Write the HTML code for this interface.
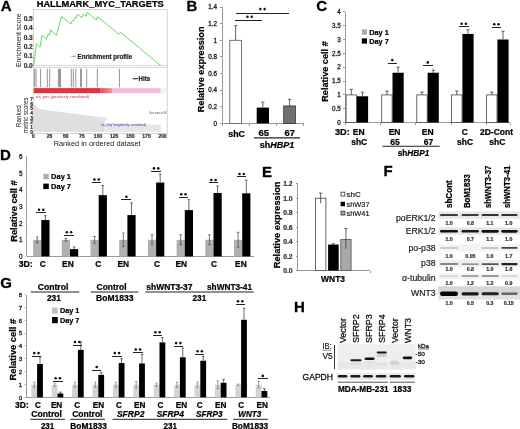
<!DOCTYPE html>
<html><head><meta charset="utf-8"><style>
html,body{margin:0;padding:0;background:#fff;width:520px;height:429px;overflow:hidden}
svg{display:block;will-change:transform}
text{font-family:"Liberation Sans", sans-serif}
</style></head><body>
<svg width="520" height="429" viewBox="0 0 520 429" font-family='"Liberation Sans", sans-serif'>
<rect width="520" height="429" fill="#fff"/>
<text x="0.8" y="11.2" font-size="15" font-weight="bold" stroke="#000" stroke-width="0.3">A</text>
<text x="186.4" y="11.3" font-size="15" font-weight="bold" stroke="#000" stroke-width="0.3">B</text>
<text x="316.3" y="11.4" font-size="15" font-weight="bold" stroke="#000" stroke-width="0.3">C</text>
<text x="-0.1" y="159.6" font-size="15" font-weight="bold" stroke="#000" stroke-width="0.3">D</text>
<text x="261.9" y="176.5" font-size="15" font-weight="bold" stroke="#000" stroke-width="0.3">E</text>
<text x="383.5" y="176.3" font-size="15" font-weight="bold" stroke="#000" stroke-width="0.3">F</text>
<text x="0.2" y="288.2" font-size="15" font-weight="bold" stroke="#000" stroke-width="0.3">G</text>
<text x="293.9" y="311.7" font-size="15" font-weight="bold" stroke="#000" stroke-width="0.3">H</text>
<text x="36.70" y="7.44" font-size="9" font-weight="bold" stroke="#000" stroke-width="0.22" textLength="127.10" lengthAdjust="spacingAndGlyphs">HALLMARK_MYC_TARGETS</text>
<rect x="33.5" y="9.4" width="133.7" height="124" fill="none" stroke="#c8c8c8" stroke-width="0.8"/>
<line x1="33.50" y1="67.40" x2="167.20" y2="67.40" stroke="#c8c8c8" stroke-width="0.8" />
<line x1="33.50" y1="65.40" x2="167.20" y2="65.40" stroke="#aaaaaa" stroke-width="0.7" stroke-dasharray="1.5,1"/>
<text x="32.80" y="67.58" font-size="6.6" font-weight="bold" fill="#333" text-anchor="end" stroke="#333" stroke-width="0.22">0.0</text>
<text x="32.80" y="58.24" font-size="6.6" font-weight="bold" fill="#333" text-anchor="end" stroke="#333" stroke-width="0.22">0.1</text>
<text x="32.80" y="48.90" font-size="6.6" font-weight="bold" fill="#333" text-anchor="end" stroke="#333" stroke-width="0.22">0.2</text>
<text x="32.80" y="39.56" font-size="6.6" font-weight="bold" fill="#333" text-anchor="end" stroke="#333" stroke-width="0.22">0.3</text>
<text x="32.80" y="30.22" font-size="6.6" font-weight="bold" fill="#333" text-anchor="end" stroke="#333" stroke-width="0.22">0.4</text>
<text x="32.80" y="20.88" font-size="6.6" font-weight="bold" fill="#333" text-anchor="end" stroke="#333" stroke-width="0.22">0.5</text>
<text transform="translate(21.40,67.10) rotate(-90)" font-size="7.0" fill="#1a1a1a" textLength="53.80" lengthAdjust="spacingAndGlyphs">Enrichment score</text>
<path d="M33.9,65.2 L36.3,43.7 L40.1,47.2 L41.9,35.3 L46.5,39.5 L47.9,34.3 L49.0,35.6 L50.7,30.1 L56.4,35.4 L61.5,16.7 L70.9,23.9 L72.3,20.5 L73.3,21.0 L75.2,17.4 L76.3,18.1 L77.3,14.3 L81.9,17.6 L83.1,14.3 L86.3,16.2 L87.2,12.3 L96.3,20.0 L97.5,16.7 L118.8,34.0 L120.7,32.5 L160.6,65.4" fill="none" stroke="#66d866" stroke-width="1.0" stroke-linejoin="round"/>
<line x1="71.30" y1="56.30" x2="76.20" y2="56.30" stroke="#5fd35f" stroke-width="1.1" />
<text x="77.60" y="58.85" font-size="6.8" font-weight="bold" fill="#222" stroke="#222" stroke-width="0.22" textLength="54.60" lengthAdjust="spacingAndGlyphs">Enrichment profile</text>
<line x1="34.60" y1="68.80" x2="34.60" y2="87.30" stroke="#7a7a7a" stroke-width="0.8" />
<line x1="36.00" y1="68.80" x2="36.00" y2="87.30" stroke="#7a7a7a" stroke-width="0.8" />
<line x1="40.60" y1="68.80" x2="40.60" y2="87.30" stroke="#7a7a7a" stroke-width="0.8" />
<line x1="47.30" y1="68.80" x2="47.30" y2="87.30" stroke="#7a7a7a" stroke-width="0.8" />
<line x1="49.70" y1="68.80" x2="49.70" y2="87.30" stroke="#7a7a7a" stroke-width="0.8" />
<line x1="58.40" y1="68.80" x2="58.40" y2="87.30" stroke="#7a7a7a" stroke-width="0.8" />
<line x1="59.50" y1="68.80" x2="59.50" y2="87.30" stroke="#7a7a7a" stroke-width="0.8" />
<line x1="60.50" y1="68.80" x2="60.50" y2="87.30" stroke="#7a7a7a" stroke-width="0.8" />
<line x1="71.30" y1="68.80" x2="71.30" y2="87.30" stroke="#7a7a7a" stroke-width="0.8" />
<line x1="73.30" y1="68.80" x2="73.30" y2="87.30" stroke="#7a7a7a" stroke-width="0.8" />
<line x1="75.80" y1="68.80" x2="75.80" y2="87.30" stroke="#7a7a7a" stroke-width="0.8" />
<line x1="80.60" y1="68.80" x2="80.60" y2="87.30" stroke="#7a7a7a" stroke-width="0.8" />
<line x1="81.40" y1="68.80" x2="81.40" y2="87.30" stroke="#7a7a7a" stroke-width="0.8" />
<line x1="86.70" y1="68.80" x2="86.70" y2="87.30" stroke="#7a7a7a" stroke-width="0.8" />
<line x1="97.30" y1="68.80" x2="97.30" y2="87.30" stroke="#7a7a7a" stroke-width="0.8" />
<line x1="119.40" y1="68.80" x2="119.40" y2="87.30" stroke="#7a7a7a" stroke-width="0.8" />
<line x1="132.80" y1="78.70" x2="137.80" y2="78.70" stroke="#222" stroke-width="1.1" />
<text x="138.60" y="81.22" font-size="7.0" font-weight="bold" fill="#222" stroke="#222" stroke-width="0.22" textLength="11.60" lengthAdjust="spacingAndGlyphs">Hits</text>
<rect x="33.80" y="88.10" width="66.40" height="5.10" fill="#e8303c" />
<defs><linearGradient id="rb2" x1="0" x2="1" y1="0" y2="0"><stop offset="0" stop-color="#ea4a55"/><stop offset="1" stop-color="#f39aa0"/></linearGradient></defs>
<rect x="100.20" y="88.10" width="12.50" height="5.10" fill="url(#rb2)" />
<rect x="112.70" y="88.10" width="48.10" height="5.10" fill="#f6bde2" />
<rect x="160.80" y="88.10" width="5.80" height="5.10" fill="#fbf0f7" />
<path d="M33.5,132.0 L33.5,99.8 L34.1,102.4 L34.8,104.2 L35.4,105.5 L36.1,106.5 L36.7,107.2 L37.4,107.8 L38.0,108.2 L38.7,108.5 L39.3,108.8 L40.0,109.0 L40.6,109.1 L41.3,109.3 L41.9,109.4 L42.5,109.5 L43.2,109.6 L43.8,109.7 L44.5,109.8 L45.1,109.9 L45.8,110.0 L46.4,110.1 L47.1,110.2 L47.7,110.3 L48.4,110.4 L49.0,110.4 L49.7,110.5 L50.3,110.6 L51.0,110.7 L51.6,110.8 L52.2,110.9 L52.9,111.0 L53.5,111.0 L54.2,111.1 L54.8,111.2 L55.5,111.3 L56.1,111.4 L56.8,111.5 L57.4,111.5 L58.1,111.6 L58.7,111.7 L59.4,111.8 L60.0,111.9 L60.6,112.0 L61.3,112.0 L61.9,112.1 L62.6,112.2 L63.2,112.3 L63.9,112.4 L64.5,112.5 L65.2,112.6 L65.8,112.6 L66.5,112.7 L67.1,112.8 L67.8,112.9 L68.4,113.0 L69.1,113.1 L69.7,113.1 L70.3,113.2 L71.0,113.3 L71.6,113.4 L72.3,113.5 L72.9,113.6 L73.6,113.6 L74.2,113.7 L74.9,113.8 L75.5,113.9 L76.2,114.0 L76.8,114.1 L77.5,114.2 L78.1,114.2 L78.7,114.3 L79.4,114.4 L80.0,114.5 L80.7,114.6 L81.3,114.7 L82.0,114.7 L82.6,114.8 L83.3,114.9 L83.9,115.0 L84.6,115.1 L85.2,115.2 L85.9,115.3 L86.5,115.3 L87.2,115.4 L87.8,115.5 L88.4,115.6 L89.1,115.7 L89.7,115.8 L90.4,115.8 L91.0,115.9 L91.7,116.0 L92.3,116.1 L93.0,116.2 L93.6,116.3 L94.3,116.3 L94.9,116.4 L95.6,116.5 L96.2,116.6 L96.8,116.7 L97.5,116.8 L98.1,116.9 L98.8,116.9 L99.4,117.0 L100.1,117.1 L100.7,117.2 L101.4,117.3 L102.0,117.4 L102.7,117.4 L103.3,117.5 L104.0,117.6 L104.6,117.7 L104.6,132.0 Z" fill="#dedede" stroke="none"/>
<path d="M105.3,132.0 L105.3,122.9 L105.9,122.9 L106.5,123.0 L107.2,123.0 L107.8,123.0 L108.5,123.0 L109.1,123.0 L109.8,123.1 L110.4,123.1 L111.1,123.1 L111.7,123.1 L112.4,123.1 L113.0,123.2 L113.7,123.2 L114.3,123.2 L114.9,123.2 L115.6,123.2 L116.2,123.3 L116.9,123.3 L117.5,123.3 L118.2,123.3 L118.8,123.4 L119.5,123.4 L120.1,123.4 L120.8,123.4 L121.4,123.4 L122.1,123.5 L122.7,123.5 L123.3,123.5 L124.0,123.5 L124.6,123.5 L125.3,123.6 L125.9,123.6 L126.6,123.6 L127.2,123.6 L127.9,123.6 L128.5,123.7 L129.2,123.7 L129.8,123.7 L130.5,123.7 L131.1,123.8 L131.8,123.8 L132.4,123.8 L133.0,123.8 L133.7,123.8 L134.3,123.9 L135.0,123.9 L135.6,123.9 L136.3,123.9 L136.9,123.9 L137.6,124.0 L138.2,124.0 L138.9,124.0 L139.5,124.0 L140.2,124.0 L140.8,124.1 L141.4,124.1 L142.1,124.1 L142.7,124.1 L143.4,124.2 L144.0,124.2 L144.7,124.2 L145.3,124.2 L146.0,124.2 L146.6,124.3 L147.3,124.3 L147.9,124.3 L148.6,124.3 L149.2,124.3 L149.9,124.4 L150.5,124.4 L151.1,124.4 L151.8,124.4 L152.4,124.4 L153.1,124.5 L153.7,124.5 L154.4,124.5 L155.0,124.5 L155.7,124.5 L156.3,124.6 L157.0,124.6 L157.6,124.6 L158.3,124.6 L158.9,124.7 L159.5,124.7 L160.2,124.7 L160.8,124.7 L160.8,132.0 Z" fill="#e6e6e6" stroke="none"/>
<rect x="96.00" y="117.60" width="11.00" height="3.00" fill="#e4e4f4" />
<line x1="33.50" y1="100.35" x2="33.50" y2="132.00" stroke="#ebebeb" stroke-width="0.3" />
<line x1="35.44" y1="106.02" x2="35.44" y2="132.00" stroke="#ebebeb" stroke-width="0.3" />
<line x1="37.38" y1="108.27" x2="37.38" y2="132.00" stroke="#ebebeb" stroke-width="0.3" />
<line x1="39.32" y1="109.25" x2="39.32" y2="132.00" stroke="#ebebeb" stroke-width="0.3" />
<line x1="41.26" y1="109.78" x2="41.26" y2="132.00" stroke="#ebebeb" stroke-width="0.3" />
<line x1="43.20" y1="110.13" x2="43.20" y2="132.00" stroke="#ebebeb" stroke-width="0.3" />
<line x1="45.14" y1="110.42" x2="45.14" y2="132.00" stroke="#ebebeb" stroke-width="0.3" />
<line x1="47.07" y1="110.68" x2="47.07" y2="132.00" stroke="#ebebeb" stroke-width="0.3" />
<line x1="49.01" y1="110.94" x2="49.01" y2="132.00" stroke="#ebebeb" stroke-width="0.3" />
<line x1="50.95" y1="111.20" x2="50.95" y2="132.00" stroke="#ebebeb" stroke-width="0.3" />
<line x1="52.89" y1="111.45" x2="52.89" y2="132.00" stroke="#ebebeb" stroke-width="0.3" />
<line x1="54.83" y1="111.70" x2="54.83" y2="132.00" stroke="#ebebeb" stroke-width="0.3" />
<line x1="56.77" y1="111.96" x2="56.77" y2="132.00" stroke="#ebebeb" stroke-width="0.3" />
<line x1="58.71" y1="112.21" x2="58.71" y2="132.00" stroke="#ebebeb" stroke-width="0.3" />
<line x1="60.65" y1="112.46" x2="60.65" y2="132.00" stroke="#ebebeb" stroke-width="0.3" />
<line x1="62.59" y1="112.72" x2="62.59" y2="132.00" stroke="#ebebeb" stroke-width="0.3" />
<line x1="64.53" y1="112.97" x2="64.53" y2="132.00" stroke="#ebebeb" stroke-width="0.3" />
<line x1="66.47" y1="113.22" x2="66.47" y2="132.00" stroke="#ebebeb" stroke-width="0.3" />
<line x1="68.41" y1="113.48" x2="68.41" y2="132.00" stroke="#ebebeb" stroke-width="0.3" />
<line x1="70.34" y1="113.73" x2="70.34" y2="132.00" stroke="#ebebeb" stroke-width="0.3" />
<line x1="72.28" y1="113.98" x2="72.28" y2="132.00" stroke="#ebebeb" stroke-width="0.3" />
<line x1="74.22" y1="114.23" x2="74.22" y2="132.00" stroke="#ebebeb" stroke-width="0.3" />
<line x1="76.16" y1="114.49" x2="76.16" y2="132.00" stroke="#ebebeb" stroke-width="0.3" />
<line x1="78.10" y1="114.74" x2="78.10" y2="132.00" stroke="#ebebeb" stroke-width="0.3" />
<line x1="80.04" y1="114.99" x2="80.04" y2="132.00" stroke="#ebebeb" stroke-width="0.3" />
<line x1="81.98" y1="115.25" x2="81.98" y2="132.00" stroke="#ebebeb" stroke-width="0.3" />
<line x1="83.92" y1="115.50" x2="83.92" y2="132.00" stroke="#ebebeb" stroke-width="0.3" />
<line x1="85.86" y1="115.75" x2="85.86" y2="132.00" stroke="#ebebeb" stroke-width="0.3" />
<line x1="87.80" y1="116.01" x2="87.80" y2="132.00" stroke="#ebebeb" stroke-width="0.3" />
<line x1="89.74" y1="116.26" x2="89.74" y2="132.00" stroke="#ebebeb" stroke-width="0.3" />
<line x1="91.68" y1="116.51" x2="91.68" y2="132.00" stroke="#ebebeb" stroke-width="0.3" />
<line x1="93.62" y1="116.76" x2="93.62" y2="132.00" stroke="#ebebeb" stroke-width="0.3" />
<line x1="95.55" y1="117.02" x2="95.55" y2="132.00" stroke="#ebebeb" stroke-width="0.3" />
<line x1="97.49" y1="117.27" x2="97.49" y2="132.00" stroke="#ebebeb" stroke-width="0.3" />
<line x1="99.43" y1="117.52" x2="99.43" y2="132.00" stroke="#ebebeb" stroke-width="0.3" />
<line x1="101.37" y1="117.78" x2="101.37" y2="132.00" stroke="#ebebeb" stroke-width="0.3" />
<line x1="103.31" y1="118.03" x2="103.31" y2="132.00" stroke="#ebebeb" stroke-width="0.3" />
<line x1="105.25" y1="123.41" x2="105.25" y2="132.00" stroke="#ebebeb" stroke-width="0.3" />
<line x1="107.19" y1="123.48" x2="107.19" y2="132.00" stroke="#ebebeb" stroke-width="0.3" />
<line x1="109.13" y1="123.54" x2="109.13" y2="132.00" stroke="#ebebeb" stroke-width="0.3" />
<line x1="111.07" y1="123.60" x2="111.07" y2="132.00" stroke="#ebebeb" stroke-width="0.3" />
<line x1="113.01" y1="123.66" x2="113.01" y2="132.00" stroke="#ebebeb" stroke-width="0.3" />
<line x1="114.95" y1="123.73" x2="114.95" y2="132.00" stroke="#ebebeb" stroke-width="0.3" />
<line x1="116.89" y1="123.79" x2="116.89" y2="132.00" stroke="#ebebeb" stroke-width="0.3" />
<line x1="118.82" y1="123.85" x2="118.82" y2="132.00" stroke="#ebebeb" stroke-width="0.3" />
<line x1="120.76" y1="123.92" x2="120.76" y2="132.00" stroke="#ebebeb" stroke-width="0.3" />
<line x1="122.70" y1="123.98" x2="122.70" y2="132.00" stroke="#ebebeb" stroke-width="0.3" />
<line x1="124.64" y1="124.04" x2="124.64" y2="132.00" stroke="#ebebeb" stroke-width="0.3" />
<line x1="126.58" y1="124.11" x2="126.58" y2="132.00" stroke="#ebebeb" stroke-width="0.3" />
<line x1="128.52" y1="124.17" x2="128.52" y2="132.00" stroke="#ebebeb" stroke-width="0.3" />
<line x1="130.46" y1="124.23" x2="130.46" y2="132.00" stroke="#ebebeb" stroke-width="0.3" />
<line x1="132.40" y1="124.29" x2="132.40" y2="132.00" stroke="#ebebeb" stroke-width="0.3" />
<line x1="134.34" y1="124.36" x2="134.34" y2="132.00" stroke="#ebebeb" stroke-width="0.3" />
<line x1="136.28" y1="124.42" x2="136.28" y2="132.00" stroke="#ebebeb" stroke-width="0.3" />
<line x1="138.22" y1="124.48" x2="138.22" y2="132.00" stroke="#ebebeb" stroke-width="0.3" />
<line x1="140.16" y1="124.55" x2="140.16" y2="132.00" stroke="#ebebeb" stroke-width="0.3" />
<line x1="142.10" y1="124.61" x2="142.10" y2="132.00" stroke="#ebebeb" stroke-width="0.3" />
<line x1="144.03" y1="124.67" x2="144.03" y2="132.00" stroke="#ebebeb" stroke-width="0.3" />
<line x1="145.97" y1="124.73" x2="145.97" y2="132.00" stroke="#ebebeb" stroke-width="0.3" />
<line x1="147.91" y1="124.80" x2="147.91" y2="132.00" stroke="#ebebeb" stroke-width="0.3" />
<line x1="149.85" y1="124.86" x2="149.85" y2="132.00" stroke="#ebebeb" stroke-width="0.3" />
<line x1="151.79" y1="124.92" x2="151.79" y2="132.00" stroke="#ebebeb" stroke-width="0.3" />
<line x1="153.73" y1="124.99" x2="153.73" y2="132.00" stroke="#ebebeb" stroke-width="0.3" />
<line x1="155.67" y1="125.05" x2="155.67" y2="132.00" stroke="#ebebeb" stroke-width="0.3" />
<line x1="157.61" y1="125.11" x2="157.61" y2="132.00" stroke="#ebebeb" stroke-width="0.3" />
<line x1="159.55" y1="125.17" x2="159.55" y2="132.00" stroke="#ebebeb" stroke-width="0.3" />
<text x="36.00" y="97.70" font-size="3.9" fill="#d03030" textLength="53.20" lengthAdjust="spacingAndGlyphs">na_pos (positively correlated)</text>
<text x="149.00" y="114.45" font-size="3.2" fill="#444" textLength="17.50" lengthAdjust="spacingAndGlyphs">Zero cross at 96</text>
<text x="100.80" y="125.74" font-size="4.0" fill="#3535c8" textLength="45.40" lengthAdjust="spacingAndGlyphs">na_neg (negatively correlated)</text>
<text x="32.80" y="133.73" font-size="4.8" font-weight="bold" fill="#333" text-anchor="end" stroke="#333" stroke-width="0.22">0</text>
<text x="32.80" y="129.07" font-size="4.8" font-weight="bold" fill="#333" text-anchor="end" stroke="#333" stroke-width="0.22">1</text>
<text x="32.80" y="124.41" font-size="4.8" font-weight="bold" fill="#333" text-anchor="end" stroke="#333" stroke-width="0.22">2</text>
<text x="32.80" y="119.75" font-size="4.8" font-weight="bold" fill="#333" text-anchor="end" stroke="#333" stroke-width="0.22">3</text>
<text x="32.80" y="115.09" font-size="4.8" font-weight="bold" fill="#333" text-anchor="end" stroke="#333" stroke-width="0.22">4</text>
<text x="32.80" y="110.43" font-size="4.8" font-weight="bold" fill="#333" text-anchor="end" stroke="#333" stroke-width="0.22">5</text>
<text x="32.80" y="105.77" font-size="4.8" font-weight="bold" fill="#333" text-anchor="end" stroke="#333" stroke-width="0.22">6</text>
<text x="32.80" y="101.11" font-size="4.8" font-weight="bold" fill="#333" text-anchor="end" stroke="#333" stroke-width="0.22">7</text>
<text transform="translate(20.60,127.20) rotate(-90)" font-size="7.3" fill="#222" textLength="21.90" lengthAdjust="spacingAndGlyphs">Ranked</text>
<text transform="translate(28.20,133.00) rotate(-90)" font-size="7.3" fill="#222" textLength="35.50" lengthAdjust="spacingAndGlyphs">metric scores</text>
<text x="33.40" y="137.80" font-size="5.0" font-weight="bold" fill="#333" text-anchor="middle" stroke="#333" stroke-width="0.22">0</text>
<text x="49.56" y="137.80" font-size="5.0" font-weight="bold" fill="#333" text-anchor="middle" stroke="#333" stroke-width="0.22">25</text>
<text x="65.72" y="137.80" font-size="5.0" font-weight="bold" fill="#333" text-anchor="middle" stroke="#333" stroke-width="0.22">50</text>
<text x="81.88" y="137.80" font-size="5.0" font-weight="bold" fill="#333" text-anchor="middle" stroke="#333" stroke-width="0.22">75</text>
<text x="98.04" y="137.80" font-size="5.0" font-weight="bold" fill="#333" text-anchor="middle" stroke="#333" stroke-width="0.22">100</text>
<text x="114.20" y="137.80" font-size="5.0" font-weight="bold" fill="#333" text-anchor="middle" stroke="#333" stroke-width="0.22">125</text>
<text x="130.36" y="137.80" font-size="5.0" font-weight="bold" fill="#333" text-anchor="middle" stroke="#333" stroke-width="0.22">150</text>
<text x="146.52" y="137.80" font-size="5.0" font-weight="bold" fill="#333" text-anchor="middle" stroke="#333" stroke-width="0.22">175</text>
<text x="162.68" y="137.80" font-size="5.0" font-weight="bold" fill="#333" text-anchor="middle" stroke="#333" stroke-width="0.22">200</text>
<text x="53.70" y="145.50" font-size="7.5" fill="#222" textLength="86.90" lengthAdjust="spacingAndGlyphs">Ranked in ordered dataset</text>
<line x1="222.10" y1="7.00" x2="222.10" y2="123.40" stroke="#9a9a9a" stroke-width="1" shape-rendering="crispEdges"/>
<line x1="222.10" y1="123.40" x2="303.50" y2="123.40" stroke="#9a9a9a" stroke-width="1" shape-rendering="crispEdges"/>
<line x1="220.00" y1="123.40" x2="222.10" y2="123.40" stroke="#9a9a9a" stroke-width="1" shape-rendering="crispEdges"/>
<text x="217.00" y="125.67" font-size="6.3" fill="#222" text-anchor="end" stroke="#222" stroke-width="0.3">0</text>
<line x1="220.00" y1="106.78" x2="222.10" y2="106.78" stroke="#9a9a9a" stroke-width="1" shape-rendering="crispEdges"/>
<text x="217.00" y="109.05" font-size="6.3" fill="#222" text-anchor="end" stroke="#222" stroke-width="0.3">0.2</text>
<line x1="220.00" y1="90.16" x2="222.10" y2="90.16" stroke="#9a9a9a" stroke-width="1" shape-rendering="crispEdges"/>
<text x="217.00" y="92.43" font-size="6.3" fill="#222" text-anchor="end" stroke="#222" stroke-width="0.3">0.4</text>
<line x1="220.00" y1="73.54" x2="222.10" y2="73.54" stroke="#9a9a9a" stroke-width="1" shape-rendering="crispEdges"/>
<text x="217.00" y="75.81" font-size="6.3" fill="#222" text-anchor="end" stroke="#222" stroke-width="0.3">0.6</text>
<line x1="220.00" y1="56.92" x2="222.10" y2="56.92" stroke="#9a9a9a" stroke-width="1" shape-rendering="crispEdges"/>
<text x="217.00" y="59.19" font-size="6.3" fill="#222" text-anchor="end" stroke="#222" stroke-width="0.3">0.8</text>
<line x1="220.00" y1="40.30" x2="222.10" y2="40.30" stroke="#9a9a9a" stroke-width="1" shape-rendering="crispEdges"/>
<text x="217.00" y="42.57" font-size="6.3" fill="#222" text-anchor="end" stroke="#222" stroke-width="0.3">1</text>
<line x1="220.00" y1="23.68" x2="222.10" y2="23.68" stroke="#9a9a9a" stroke-width="1" shape-rendering="crispEdges"/>
<text x="217.00" y="25.95" font-size="6.3" fill="#222" text-anchor="end" stroke="#222" stroke-width="0.3">1.2</text>
<line x1="220.00" y1="7.06" x2="222.10" y2="7.06" stroke="#9a9a9a" stroke-width="1" shape-rendering="crispEdges"/>
<text x="217.00" y="9.33" font-size="6.3" fill="#222" text-anchor="end" stroke="#222" stroke-width="0.3">1.4</text>
<line x1="222.10" y1="123.40" x2="222.10" y2="125.60" stroke="#9a9a9a" stroke-width="1" shape-rendering="crispEdges"/>
<line x1="249.00" y1="123.40" x2="249.00" y2="125.60" stroke="#9a9a9a" stroke-width="1" shape-rendering="crispEdges"/>
<line x1="276.30" y1="123.40" x2="276.30" y2="125.60" stroke="#9a9a9a" stroke-width="1" shape-rendering="crispEdges"/>
<line x1="303.50" y1="123.40" x2="303.50" y2="125.60" stroke="#9a9a9a" stroke-width="1" shape-rendering="crispEdges"/>
<rect x="229.80" y="40.30" width="11.70" height="83.10" fill="#fff" stroke="#555" stroke-width="0.8" />
<line x1="235.65" y1="25.76" x2="235.65" y2="40.30" stroke="#383838" stroke-width="0.8" />
<line x1="234.15" y1="25.76" x2="237.15" y2="25.76" stroke="#383838" stroke-width="0.8" />
<rect x="256.70" y="107.61" width="12.30" height="15.79" fill="#000" />
<line x1="262.85" y1="102.21" x2="262.85" y2="107.61" stroke="#383838" stroke-width="0.8" />
<line x1="261.25" y1="102.21" x2="264.45" y2="102.21" stroke="#383838" stroke-width="0.8" />
<rect x="283.70" y="105.95" width="11.70" height="17.45" fill="#707070" stroke="#333" stroke-width="0.8" />
<line x1="289.55" y1="99.30" x2="289.55" y2="105.95" stroke="#383838" stroke-width="0.8" />
<line x1="287.95" y1="99.30" x2="291.15" y2="99.30" stroke="#383838" stroke-width="0.8" />
<line x1="235.80" y1="13.00" x2="288.50" y2="13.00" stroke="#222" stroke-width="1" shape-rendering="crispEdges"/>
<circle cx="260.35" cy="9.10" r="1.3" fill="#111"/>
<circle cx="264.65" cy="9.10" r="1.3" fill="#111"/>
<line x1="235.00" y1="20.40" x2="261.60" y2="20.40" stroke="#222" stroke-width="1" shape-rendering="crispEdges"/>
<circle cx="247.45" cy="16.80" r="1.3" fill="#111"/>
<circle cx="251.75" cy="16.80" r="1.3" fill="#111"/>
<text transform="translate(203.50,112.20) rotate(-90)" font-size="9.1" font-weight="bold" stroke="#000" stroke-width="0.22" textLength="85.70" lengthAdjust="spacingAndGlyphs">Relative expression</text>
<text x="228.30" y="136.70" font-size="8.6" font-weight="bold" stroke="#000" stroke-width="0.22" textLength="16.70" lengthAdjust="spacingAndGlyphs">shC</text>
<text x="258.40" y="136.10" font-size="8.6" font-weight="bold" stroke="#000" stroke-width="0.22" textLength="10.60" lengthAdjust="spacingAndGlyphs">65</text>
<text x="284.50" y="136.10" font-size="8.6" font-weight="bold" stroke="#000" stroke-width="0.22" textLength="10.50" lengthAdjust="spacingAndGlyphs">67</text>
<line x1="254.00" y1="137.90" x2="300.00" y2="137.90" stroke="#222" stroke-width="1.1" />
<text x="259.80" y="147.60" font-size="8.6" font-weight="bold" stroke="#000" stroke-width="0.22" textLength="34.60" lengthAdjust="spacingAndGlyphs">sh<tspan font-style="italic">HBP1</tspan></text>
<line x1="345.20" y1="11.70" x2="345.20" y2="122.60" stroke="#9a9a9a" stroke-width="1" shape-rendering="crispEdges"/>
<line x1="345.20" y1="122.60" x2="510.00" y2="122.60" stroke="#9a9a9a" stroke-width="1" shape-rendering="crispEdges"/>
<line x1="343.20" y1="122.60" x2="345.20" y2="122.60" stroke="#9a9a9a" stroke-width="1" shape-rendering="crispEdges"/>
<text x="340.80" y="124.87" font-size="6.3" fill="#222" text-anchor="end" stroke="#222" stroke-width="0.3">0</text>
<line x1="343.20" y1="108.75" x2="345.20" y2="108.75" stroke="#9a9a9a" stroke-width="1" shape-rendering="crispEdges"/>
<text x="340.80" y="111.02" font-size="6.3" fill="#222" text-anchor="end" stroke="#222" stroke-width="0.3">0.5</text>
<line x1="343.20" y1="94.90" x2="345.20" y2="94.90" stroke="#9a9a9a" stroke-width="1" shape-rendering="crispEdges"/>
<text x="340.80" y="97.17" font-size="6.3" fill="#222" text-anchor="end" stroke="#222" stroke-width="0.3">1</text>
<line x1="343.20" y1="81.05" x2="345.20" y2="81.05" stroke="#9a9a9a" stroke-width="1" shape-rendering="crispEdges"/>
<text x="340.80" y="83.32" font-size="6.3" fill="#222" text-anchor="end" stroke="#222" stroke-width="0.3">1.5</text>
<line x1="343.20" y1="67.20" x2="345.20" y2="67.20" stroke="#9a9a9a" stroke-width="1" shape-rendering="crispEdges"/>
<text x="340.80" y="69.47" font-size="6.3" fill="#222" text-anchor="end" stroke="#222" stroke-width="0.3">2</text>
<line x1="343.20" y1="53.35" x2="345.20" y2="53.35" stroke="#9a9a9a" stroke-width="1" shape-rendering="crispEdges"/>
<text x="340.80" y="55.62" font-size="6.3" fill="#222" text-anchor="end" stroke="#222" stroke-width="0.3">2.5</text>
<line x1="343.20" y1="39.50" x2="345.20" y2="39.50" stroke="#9a9a9a" stroke-width="1" shape-rendering="crispEdges"/>
<text x="340.80" y="41.77" font-size="6.3" fill="#222" text-anchor="end" stroke="#222" stroke-width="0.3">3</text>
<line x1="343.20" y1="25.65" x2="345.20" y2="25.65" stroke="#9a9a9a" stroke-width="1" shape-rendering="crispEdges"/>
<text x="340.80" y="27.92" font-size="6.3" fill="#222" text-anchor="end" stroke="#222" stroke-width="0.3">3.5</text>
<line x1="343.20" y1="11.80" x2="345.20" y2="11.80" stroke="#9a9a9a" stroke-width="1" shape-rendering="crispEdges"/>
<text x="340.80" y="14.07" font-size="6.3" fill="#222" text-anchor="end" stroke="#222" stroke-width="0.3">4</text>
<rect x="346.10" y="94.90" width="10.40" height="27.70" fill="#fff" stroke="#444" stroke-width="0.8" />
<line x1="351.30" y1="89.36" x2="351.30" y2="94.90" stroke="#383838" stroke-width="0.8" />
<line x1="349.70" y1="89.36" x2="352.90" y2="89.36" stroke="#383838" stroke-width="0.8" />
<rect x="356.90" y="96.28" width="11.20" height="26.31" fill="#000" />
<line x1="362.50" y1="92.13" x2="362.50" y2="96.28" stroke="#383838" stroke-width="0.8" />
<line x1="360.90" y1="92.13" x2="364.10" y2="92.13" stroke="#383838" stroke-width="0.8" />
<rect x="381.70" y="94.90" width="10.40" height="27.70" fill="#fff" stroke="#444" stroke-width="0.8" />
<line x1="386.90" y1="91.02" x2="386.90" y2="94.90" stroke="#383838" stroke-width="0.8" />
<line x1="385.30" y1="91.02" x2="388.50" y2="91.02" stroke="#383838" stroke-width="0.8" />
<rect x="392.50" y="72.74" width="11.20" height="49.86" fill="#000" />
<line x1="398.10" y1="67.20" x2="398.10" y2="72.74" stroke="#383838" stroke-width="0.8" />
<line x1="396.50" y1="67.20" x2="399.70" y2="67.20" stroke="#383838" stroke-width="0.8" />
<rect x="416.80" y="94.90" width="10.40" height="27.70" fill="#fff" stroke="#444" stroke-width="0.8" />
<line x1="422.00" y1="92.13" x2="422.00" y2="94.90" stroke="#383838" stroke-width="0.8" />
<line x1="420.40" y1="92.13" x2="423.60" y2="92.13" stroke="#383838" stroke-width="0.8" />
<rect x="427.60" y="72.74" width="11.20" height="49.86" fill="#000" />
<line x1="433.20" y1="69.97" x2="433.20" y2="72.74" stroke="#383838" stroke-width="0.8" />
<line x1="431.60" y1="69.97" x2="434.80" y2="69.97" stroke="#383838" stroke-width="0.8" />
<rect x="451.60" y="94.90" width="10.40" height="27.70" fill="#fff" stroke="#444" stroke-width="0.8" />
<line x1="456.80" y1="91.02" x2="456.80" y2="94.90" stroke="#383838" stroke-width="0.8" />
<line x1="455.20" y1="91.02" x2="458.40" y2="91.02" stroke="#383838" stroke-width="0.8" />
<rect x="462.40" y="33.96" width="11.20" height="88.64" fill="#000" />
<line x1="468.00" y1="29.80" x2="468.00" y2="33.96" stroke="#383838" stroke-width="0.8" />
<line x1="466.40" y1="29.80" x2="469.60" y2="29.80" stroke="#383838" stroke-width="0.8" />
<rect x="486.60" y="94.90" width="10.40" height="27.70" fill="#fff" stroke="#444" stroke-width="0.8" />
<line x1="491.80" y1="92.13" x2="491.80" y2="94.90" stroke="#383838" stroke-width="0.8" />
<line x1="490.20" y1="92.13" x2="493.40" y2="92.13" stroke="#383838" stroke-width="0.8" />
<rect x="497.40" y="39.50" width="11.20" height="83.10" fill="#000" />
<line x1="503.00" y1="31.19" x2="503.00" y2="39.50" stroke="#383838" stroke-width="0.8" />
<line x1="501.40" y1="31.19" x2="504.60" y2="31.19" stroke="#383838" stroke-width="0.8" />
<line x1="345.20" y1="122.60" x2="345.20" y2="124.80" stroke="#9a9a9a" stroke-width="1" shape-rendering="crispEdges"/>
<line x1="380.60" y1="122.60" x2="380.60" y2="124.80" stroke="#9a9a9a" stroke-width="1" shape-rendering="crispEdges"/>
<line x1="415.90" y1="122.60" x2="415.90" y2="124.80" stroke="#9a9a9a" stroke-width="1" shape-rendering="crispEdges"/>
<line x1="451.10" y1="122.60" x2="451.10" y2="124.80" stroke="#9a9a9a" stroke-width="1" shape-rendering="crispEdges"/>
<line x1="486.30" y1="122.60" x2="486.30" y2="124.80" stroke="#9a9a9a" stroke-width="1" shape-rendering="crispEdges"/>
<line x1="510.00" y1="122.60" x2="510.00" y2="124.80" stroke="#9a9a9a" stroke-width="1" shape-rendering="crispEdges"/>
<line x1="387.50" y1="63.30" x2="397.10" y2="63.30" stroke="#222" stroke-width="1" shape-rendering="crispEdges"/>
<circle cx="392.30" cy="60.10" r="1.3" fill="#111"/>
<line x1="423.00" y1="65.40" x2="432.50" y2="65.40" stroke="#222" stroke-width="1" shape-rendering="crispEdges"/>
<circle cx="427.75" cy="62.40" r="1.3" fill="#111"/>
<line x1="458.90" y1="26.60" x2="468.70" y2="26.60" stroke="#222" stroke-width="1" shape-rendering="crispEdges"/>
<circle cx="461.65" cy="23.80" r="1.3" fill="#111"/>
<circle cx="465.95" cy="23.80" r="1.3" fill="#111"/>
<line x1="491.50" y1="27.10" x2="501.30" y2="27.10" stroke="#222" stroke-width="1" shape-rendering="crispEdges"/>
<circle cx="494.25" cy="24.30" r="1.3" fill="#111"/>
<circle cx="498.55" cy="24.30" r="1.3" fill="#111"/>
<rect x="361.80" y="29.40" width="5.20" height="5.20" fill="#a8a8a8" />
<rect x="361.80" y="38.40" width="5.20" height="5.20" fill="#000" />
<text x="369.20" y="34.50" font-size="7.5" font-weight="bold" stroke="#000" stroke-width="0.22" textLength="19.60" lengthAdjust="spacingAndGlyphs">Day 1</text>
<text x="369.20" y="43.60" font-size="7.5" font-weight="bold" stroke="#000" stroke-width="0.22" textLength="19.60" lengthAdjust="spacingAndGlyphs">Day 7</text>
<text transform="translate(327.80,101.80) rotate(-90)" font-size="9.3" font-weight="bold" stroke="#000" stroke-width="0.22" textLength="60.60" lengthAdjust="spacingAndGlyphs">Relative cell #</text>
<text x="334.90" y="134.86" font-size="8.5" font-weight="bold" stroke="#000" stroke-width="0.22" textLength="14.80" lengthAdjust="spacingAndGlyphs">3D:</text>
<text x="358.70" y="134.96" font-size="8.5" font-weight="bold" text-anchor="middle" stroke="#000" stroke-width="0.22">EN</text>
<text x="394.60" y="134.96" font-size="8.5" font-weight="bold" text-anchor="middle" stroke="#000" stroke-width="0.22">EN</text>
<text x="427.70" y="134.96" font-size="8.5" font-weight="bold" text-anchor="middle" stroke="#000" stroke-width="0.22">EN</text>
<text x="464.90" y="134.96" font-size="8.5" font-weight="bold" text-anchor="middle" stroke="#000" stroke-width="0.22">C</text>
<text x="496.50" y="134.96" font-size="8.5" font-weight="bold" text-anchor="middle" stroke="#000" stroke-width="0.22">2D-Cont</text>
<text x="359.20" y="145.16" font-size="8.5" font-weight="bold" text-anchor="middle" stroke="#000" stroke-width="0.22">shC</text>
<text x="395.00" y="145.16" font-size="8.5" font-weight="bold" text-anchor="middle" stroke="#000" stroke-width="0.22">65</text>
<text x="428.60" y="145.16" font-size="8.5" font-weight="bold" text-anchor="middle" stroke="#000" stroke-width="0.22">67</text>
<text x="465.00" y="145.16" font-size="8.5" font-weight="bold" text-anchor="middle" stroke="#000" stroke-width="0.22">shC</text>
<text x="497.30" y="145.16" font-size="8.5" font-weight="bold" text-anchor="middle" stroke="#000" stroke-width="0.22">shC</text>
<line x1="382.50" y1="146.20" x2="439.70" y2="146.20" stroke="#222" stroke-width="1.1" />
<text x="397.70" y="155.90" font-size="8.6" font-weight="bold" stroke="#000" stroke-width="0.22" textLength="31.70" lengthAdjust="spacingAndGlyphs">sh<tspan font-style="italic">HBP1</tspan></text>
<line x1="26.90" y1="156.70" x2="26.90" y2="256.40" stroke="#9a9a9a" stroke-width="1" shape-rendering="crispEdges"/>
<line x1="26.90" y1="256.40" x2="253.80" y2="256.40" stroke="#9a9a9a" stroke-width="1" shape-rendering="crispEdges"/>
<line x1="24.90" y1="256.40" x2="26.90" y2="256.40" stroke="#d0d0d0" stroke-width="1" shape-rendering="crispEdges"/>
<text x="22.60" y="258.70" font-size="6.4" fill="#222" text-anchor="end" stroke="#222" stroke-width="0.3">0</text>
<line x1="24.90" y1="239.80" x2="26.90" y2="239.80" stroke="#d0d0d0" stroke-width="1" shape-rendering="crispEdges"/>
<text x="22.60" y="242.10" font-size="6.4" fill="#222" text-anchor="end" stroke="#222" stroke-width="0.3">1</text>
<line x1="24.90" y1="223.20" x2="26.90" y2="223.20" stroke="#d0d0d0" stroke-width="1" shape-rendering="crispEdges"/>
<text x="22.60" y="225.50" font-size="6.4" fill="#222" text-anchor="end" stroke="#222" stroke-width="0.3">2</text>
<line x1="24.90" y1="206.60" x2="26.90" y2="206.60" stroke="#d0d0d0" stroke-width="1" shape-rendering="crispEdges"/>
<text x="22.60" y="208.90" font-size="6.4" fill="#222" text-anchor="end" stroke="#222" stroke-width="0.3">3</text>
<line x1="24.90" y1="190.00" x2="26.90" y2="190.00" stroke="#d0d0d0" stroke-width="1" shape-rendering="crispEdges"/>
<text x="22.60" y="192.30" font-size="6.4" fill="#222" text-anchor="end" stroke="#222" stroke-width="0.3">4</text>
<line x1="24.90" y1="173.40" x2="26.90" y2="173.40" stroke="#d0d0d0" stroke-width="1" shape-rendering="crispEdges"/>
<text x="22.60" y="175.70" font-size="6.4" fill="#222" text-anchor="end" stroke="#222" stroke-width="0.3">5</text>
<line x1="24.90" y1="156.80" x2="26.90" y2="156.80" stroke="#d0d0d0" stroke-width="1" shape-rendering="crispEdges"/>
<text x="22.60" y="159.10" font-size="6.4" fill="#222" text-anchor="end" stroke="#222" stroke-width="0.3">6</text>
<rect x="33.10" y="239.80" width="8.20" height="16.60" fill="#b0b0b0" />
<line x1="37.20" y1="236.98" x2="37.20" y2="242.62" stroke="#555" stroke-width="0.8" />
<line x1="35.90" y1="236.98" x2="38.50" y2="236.98" stroke="#555" stroke-width="0.8" />
<line x1="35.90" y1="242.62" x2="38.50" y2="242.62" stroke="#555" stroke-width="0.8" />
<rect x="41.30" y="220.05" width="8.20" height="36.35" fill="#000" />
<line x1="45.40" y1="215.73" x2="45.40" y2="220.05" stroke="#444" stroke-width="0.8" />
<line x1="44.10" y1="215.73" x2="46.70" y2="215.73" stroke="#444" stroke-width="0.8" />
<rect x="61.80" y="239.80" width="8.20" height="16.60" fill="#b0b0b0" />
<line x1="65.90" y1="238.47" x2="65.90" y2="241.13" stroke="#555" stroke-width="0.8" />
<line x1="64.60" y1="238.47" x2="67.20" y2="238.47" stroke="#555" stroke-width="0.8" />
<line x1="64.60" y1="241.13" x2="67.20" y2="241.13" stroke="#555" stroke-width="0.8" />
<rect x="70.00" y="249.10" width="8.20" height="7.30" fill="#000" />
<line x1="74.10" y1="246.94" x2="74.10" y2="249.10" stroke="#444" stroke-width="0.8" />
<line x1="72.80" y1="246.94" x2="75.40" y2="246.94" stroke="#444" stroke-width="0.8" />
<rect x="90.50" y="239.80" width="8.20" height="16.60" fill="#b0b0b0" />
<line x1="94.60" y1="236.48" x2="94.60" y2="243.12" stroke="#555" stroke-width="0.8" />
<line x1="93.30" y1="236.48" x2="95.90" y2="236.48" stroke="#555" stroke-width="0.8" />
<line x1="93.30" y1="243.12" x2="95.90" y2="243.12" stroke="#555" stroke-width="0.8" />
<rect x="98.70" y="195.15" width="8.20" height="61.25" fill="#000" />
<line x1="102.80" y1="185.52" x2="102.80" y2="195.15" stroke="#444" stroke-width="0.8" />
<line x1="101.50" y1="185.52" x2="104.10" y2="185.52" stroke="#444" stroke-width="0.8" />
<rect x="119.20" y="239.80" width="8.20" height="16.60" fill="#b0b0b0" />
<line x1="123.30" y1="233.16" x2="123.30" y2="246.44" stroke="#555" stroke-width="0.8" />
<line x1="122.00" y1="233.16" x2="124.60" y2="233.16" stroke="#555" stroke-width="0.8" />
<line x1="122.00" y1="246.44" x2="124.60" y2="246.44" stroke="#555" stroke-width="0.8" />
<rect x="127.40" y="215.07" width="8.20" height="41.33" fill="#000" />
<line x1="131.50" y1="202.95" x2="131.50" y2="215.07" stroke="#444" stroke-width="0.8" />
<line x1="130.20" y1="202.95" x2="132.80" y2="202.95" stroke="#444" stroke-width="0.8" />
<rect x="147.90" y="239.80" width="8.20" height="16.60" fill="#b0b0b0" />
<line x1="152.00" y1="234.82" x2="152.00" y2="244.78" stroke="#555" stroke-width="0.8" />
<line x1="150.70" y1="234.82" x2="153.30" y2="234.82" stroke="#555" stroke-width="0.8" />
<line x1="150.70" y1="244.78" x2="153.30" y2="244.78" stroke="#555" stroke-width="0.8" />
<rect x="156.10" y="182.53" width="8.20" height="73.87" fill="#000" />
<line x1="160.20" y1="174.06" x2="160.20" y2="182.53" stroke="#444" stroke-width="0.8" />
<line x1="158.90" y1="174.06" x2="161.50" y2="174.06" stroke="#444" stroke-width="0.8" />
<rect x="176.60" y="239.80" width="8.20" height="16.60" fill="#b0b0b0" />
<line x1="180.70" y1="234.82" x2="180.70" y2="244.78" stroke="#555" stroke-width="0.8" />
<line x1="179.40" y1="234.82" x2="182.00" y2="234.82" stroke="#555" stroke-width="0.8" />
<line x1="179.40" y1="244.78" x2="182.00" y2="244.78" stroke="#555" stroke-width="0.8" />
<rect x="184.80" y="210.09" width="8.20" height="46.31" fill="#000" />
<line x1="188.90" y1="199.63" x2="188.90" y2="210.09" stroke="#444" stroke-width="0.8" />
<line x1="187.60" y1="199.63" x2="190.20" y2="199.63" stroke="#444" stroke-width="0.8" />
<rect x="205.30" y="239.80" width="8.20" height="16.60" fill="#b0b0b0" />
<line x1="209.40" y1="234.82" x2="209.40" y2="244.78" stroke="#555" stroke-width="0.8" />
<line x1="208.10" y1="234.82" x2="210.70" y2="234.82" stroke="#555" stroke-width="0.8" />
<line x1="208.10" y1="244.78" x2="210.70" y2="244.78" stroke="#555" stroke-width="0.8" />
<rect x="213.50" y="192.99" width="8.20" height="63.41" fill="#000" />
<line x1="217.60" y1="186.02" x2="217.60" y2="192.99" stroke="#444" stroke-width="0.8" />
<line x1="216.30" y1="186.02" x2="218.90" y2="186.02" stroke="#444" stroke-width="0.8" />
<rect x="234.00" y="239.80" width="8.20" height="16.60" fill="#b0b0b0" />
<line x1="238.10" y1="232.33" x2="238.10" y2="247.27" stroke="#555" stroke-width="0.8" />
<line x1="236.80" y1="232.33" x2="239.40" y2="232.33" stroke="#555" stroke-width="0.8" />
<line x1="236.80" y1="247.27" x2="239.40" y2="247.27" stroke="#555" stroke-width="0.8" />
<rect x="242.20" y="193.32" width="8.20" height="63.08" fill="#000" />
<line x1="246.30" y1="180.04" x2="246.30" y2="193.32" stroke="#444" stroke-width="0.8" />
<line x1="245.00" y1="180.04" x2="247.60" y2="180.04" stroke="#444" stroke-width="0.8" />
<line x1="36.40" y1="212.60" x2="45.90" y2="212.60" stroke="#222" stroke-width="1" shape-rendering="crispEdges"/>
<circle cx="39.00" cy="209.70" r="1.3" fill="#111"/>
<circle cx="43.30" cy="209.70" r="1.3" fill="#111"/>
<line x1="64.00" y1="235.10" x2="73.90" y2="235.10" stroke="#222" stroke-width="1" shape-rendering="crispEdges"/>
<circle cx="66.80" cy="232.20" r="1.3" fill="#111"/>
<circle cx="71.10" cy="232.20" r="1.3" fill="#111"/>
<line x1="91.90" y1="182.40" x2="101.30" y2="182.40" stroke="#222" stroke-width="1" shape-rendering="crispEdges"/>
<circle cx="94.45" cy="179.50" r="1.3" fill="#111"/>
<circle cx="98.75" cy="179.50" r="1.3" fill="#111"/>
<line x1="121.40" y1="199.60" x2="131.40" y2="199.60" stroke="#222" stroke-width="1" shape-rendering="crispEdges"/>
<circle cx="126.40" cy="196.70" r="1.3" fill="#111"/>
<line x1="151.20" y1="171.30" x2="161.00" y2="171.30" stroke="#222" stroke-width="1" shape-rendering="crispEdges"/>
<circle cx="153.95" cy="168.40" r="1.3" fill="#111"/>
<circle cx="158.25" cy="168.40" r="1.3" fill="#111"/>
<line x1="178.50" y1="197.10" x2="188.30" y2="197.10" stroke="#222" stroke-width="1" shape-rendering="crispEdges"/>
<circle cx="181.25" cy="194.20" r="1.3" fill="#111"/>
<circle cx="185.55" cy="194.20" r="1.3" fill="#111"/>
<line x1="209.10" y1="182.90" x2="217.90" y2="182.90" stroke="#222" stroke-width="1" shape-rendering="crispEdges"/>
<circle cx="211.35" cy="180.00" r="1.3" fill="#111"/>
<circle cx="215.65" cy="180.00" r="1.3" fill="#111"/>
<line x1="237.10" y1="176.90" x2="246.20" y2="176.90" stroke="#222" stroke-width="1" shape-rendering="crispEdges"/>
<circle cx="239.50" cy="174.00" r="1.3" fill="#111"/>
<circle cx="243.80" cy="174.00" r="1.3" fill="#111"/>
<rect x="43.30" y="173.80" width="5.50" height="5.50" fill="#b0b0b0" />
<rect x="43.30" y="183.60" width="5.50" height="5.50" fill="#000" />
<text x="51.10" y="179.30" font-size="7.5" font-weight="bold" stroke="#000" stroke-width="0.22" textLength="19.90" lengthAdjust="spacingAndGlyphs">Day 1</text>
<text x="51.10" y="189.10" font-size="7.5" font-weight="bold" stroke="#000" stroke-width="0.22" textLength="19.90" lengthAdjust="spacingAndGlyphs">Day 7</text>
<text transform="translate(16.50,241.80) rotate(-90)" font-size="9.3" font-weight="bold" stroke="#000" stroke-width="0.22" textLength="61.50" lengthAdjust="spacingAndGlyphs">Relative cell #</text>
<text x="18.70" y="267.32" font-size="8.4" font-weight="bold" stroke="#000" stroke-width="0.22" textLength="14.00" lengthAdjust="spacingAndGlyphs">3D:</text>
<text x="42.70" y="267.32" font-size="8.4" font-weight="bold" text-anchor="middle" stroke="#000" stroke-width="0.22">C</text>
<text x="67.90" y="267.32" font-size="8.4" font-weight="bold" text-anchor="middle" stroke="#000" stroke-width="0.22">EN</text>
<text x="98.20" y="267.32" font-size="8.4" font-weight="bold" text-anchor="middle" stroke="#000" stroke-width="0.22">C</text>
<text x="123.20" y="267.32" font-size="8.4" font-weight="bold" text-anchor="middle" stroke="#000" stroke-width="0.22">EN</text>
<text x="157.00" y="267.32" font-size="8.4" font-weight="bold" text-anchor="middle" stroke="#000" stroke-width="0.22">C</text>
<text x="181.20" y="267.32" font-size="8.4" font-weight="bold" text-anchor="middle" stroke="#000" stroke-width="0.22">EN</text>
<text x="214.10" y="267.32" font-size="8.4" font-weight="bold" text-anchor="middle" stroke="#000" stroke-width="0.22">C</text>
<text x="240.90" y="267.32" font-size="8.4" font-weight="bold" text-anchor="middle" stroke="#000" stroke-width="0.22">EN</text>
<line x1="297.50" y1="183.20" x2="297.50" y2="270.60" stroke="#9a9a9a" stroke-width="1" shape-rendering="crispEdges"/>
<line x1="297.50" y1="270.60" x2="370.30" y2="270.60" stroke="#9a9a9a" stroke-width="1" shape-rendering="crispEdges"/>
<line x1="295.50" y1="270.60" x2="297.50" y2="270.60" stroke="#9a9a9a" stroke-width="1" shape-rendering="crispEdges"/>
<text x="292.60" y="273.05" font-size="6.8" font-weight="bold" fill="#333" text-anchor="end" stroke="#333" stroke-width="0.22">0.0</text>
<line x1="295.50" y1="256.12" x2="297.50" y2="256.12" stroke="#9a9a9a" stroke-width="1" shape-rendering="crispEdges"/>
<text x="292.60" y="258.57" font-size="6.8" font-weight="bold" fill="#333" text-anchor="end" stroke="#333" stroke-width="0.22">0.2</text>
<line x1="295.50" y1="241.64" x2="297.50" y2="241.64" stroke="#9a9a9a" stroke-width="1" shape-rendering="crispEdges"/>
<text x="292.60" y="244.09" font-size="6.8" font-weight="bold" fill="#333" text-anchor="end" stroke="#333" stroke-width="0.22">0.4</text>
<line x1="295.50" y1="227.16" x2="297.50" y2="227.16" stroke="#9a9a9a" stroke-width="1" shape-rendering="crispEdges"/>
<text x="292.60" y="229.61" font-size="6.8" font-weight="bold" fill="#333" text-anchor="end" stroke="#333" stroke-width="0.22">0.6</text>
<line x1="295.50" y1="212.68" x2="297.50" y2="212.68" stroke="#9a9a9a" stroke-width="1" shape-rendering="crispEdges"/>
<text x="292.60" y="215.13" font-size="6.8" font-weight="bold" fill="#333" text-anchor="end" stroke="#333" stroke-width="0.22">0.8</text>
<line x1="295.50" y1="198.20" x2="297.50" y2="198.20" stroke="#9a9a9a" stroke-width="1" shape-rendering="crispEdges"/>
<text x="292.60" y="200.65" font-size="6.8" font-weight="bold" fill="#333" text-anchor="end" stroke="#333" stroke-width="0.22">1.0</text>
<line x1="295.50" y1="183.72" x2="297.50" y2="183.72" stroke="#9a9a9a" stroke-width="1" shape-rendering="crispEdges"/>
<text x="292.60" y="186.17" font-size="6.8" font-weight="bold" fill="#333" text-anchor="end" stroke="#333" stroke-width="0.22">1.2</text>
<line x1="370.30" y1="270.60" x2="370.30" y2="272.80" stroke="#9a9a9a" stroke-width="1" shape-rendering="crispEdges"/>
<rect x="315.40" y="198.20" width="10.50" height="72.40" fill="#fff" stroke="#444" stroke-width="0.8" />
<line x1="320.65" y1="193.13" x2="320.65" y2="203.27" stroke="#383838" stroke-width="0.8" />
<line x1="319.05" y1="193.13" x2="322.25" y2="193.13" stroke="#383838" stroke-width="0.8" />
<rect x="328.10" y="244.54" width="10.60" height="26.06" fill="#000" />
<line x1="333.40" y1="243.81" x2="333.40" y2="244.54" stroke="#383838" stroke-width="0.8" />
<line x1="331.80" y1="243.81" x2="335.00" y2="243.81" stroke="#383838" stroke-width="0.8" />
<rect x="340.80" y="239.47" width="10.30" height="31.13" fill="#a8a8a8" stroke="#555" stroke-width="0.8" />
<line x1="345.95" y1="228.61" x2="345.95" y2="248.88" stroke="#383838" stroke-width="0.8" />
<line x1="344.35" y1="228.61" x2="347.55" y2="228.61" stroke="#383838" stroke-width="0.8" />
<rect x="341.00" y="192.20" width="3.80" height="3.80" fill="#fff" stroke="#444" stroke-width="0.9" />
<rect x="340.60" y="201.80" width="4.40" height="4.40" fill="#000" />
<rect x="341.00" y="211.20" width="3.80" height="3.80" fill="#a8a8a8" stroke="#444" stroke-width="0.9" />
<text x="346.50" y="196.86" font-size="7.4" fill="#222" stroke="#222" stroke-width="0.2" textLength="14.20" lengthAdjust="spacingAndGlyphs">shC</text>
<text x="346.50" y="206.56" font-size="7.4" fill="#222" stroke="#222" stroke-width="0.2" textLength="23.10" lengthAdjust="spacingAndGlyphs">shW37</text>
<text x="346.50" y="215.96" font-size="7.4" fill="#222" stroke="#222" stroke-width="0.2" textLength="23.10" lengthAdjust="spacingAndGlyphs">shW41</text>
<text x="321.10" y="281.96" font-size="8.5" font-weight="bold" stroke="#000" stroke-width="0.22" textLength="24.00" lengthAdjust="spacingAndGlyphs">WNT3</text>
<text transform="translate(280.00,268.20) rotate(-90)" font-size="9.2" font-weight="bold" stroke="#000" stroke-width="0.22" textLength="86.70" lengthAdjust="spacingAndGlyphs">Relative expression</text>
<text transform="translate(451.80,208.10) rotate(-90)" font-size="8.5" font-weight="bold" stroke="#000" stroke-width="0.22" textLength="27.90" lengthAdjust="spacingAndGlyphs">shCont</text>
<text transform="translate(470.30,208.10) rotate(-90)" font-size="8.5" font-weight="bold" stroke="#000" stroke-width="0.22" textLength="33.90" lengthAdjust="spacingAndGlyphs">BoM1833</text>
<text transform="translate(490.50,208.10) rotate(-90)" font-size="8.5" font-weight="bold" stroke="#000" stroke-width="0.22" textLength="42.40" lengthAdjust="spacingAndGlyphs">shWNT3-37</text>
<text transform="translate(510.20,208.10) rotate(-90)" font-size="8.5" font-weight="bold" stroke="#000" stroke-width="0.22" textLength="42.40" lengthAdjust="spacingAndGlyphs">shWNT3-41</text>
<text x="435.60" y="220.53" font-size="8.7" fill="#222" text-anchor="end" stroke="#222" stroke-width="0.2">poERK1/2</text>
<text x="435.60" y="234.33" font-size="8.7" fill="#222" text-anchor="end" stroke="#222" stroke-width="0.2">ERK1/2</text>
<text x="435.60" y="251.03" font-size="8.7" fill="#222" text-anchor="end" stroke="#222" stroke-width="0.2">po-p38</text>
<text x="435.60" y="266.13" font-size="8.7" fill="#222" text-anchor="end" stroke="#222" stroke-width="0.2">p38</text>
<text x="435.60" y="281.33" font-size="8.7" fill="#222" text-anchor="end" stroke="#222" stroke-width="0.2">&#945;-tubulin</text>
<text x="435.60" y="296.43" font-size="8.7" fill="#222" text-anchor="end" stroke="#222" stroke-width="0.2">WNT3</text>
<rect x="438.30" y="211.40" width="81.70" height="7.40" fill="#e8e8e8" />
<rect x="438.30" y="227.40" width="81.70" height="7.40" fill="#e6e6e6" />
<rect x="438.30" y="244.30" width="81.70" height="6.90" fill="#f3f3f3" />
<rect x="438.30" y="259.80" width="81.70" height="7.20" fill="#efefef" />
<rect x="438.30" y="273.00" width="81.70" height="6.50" fill="#f4f4f4" />
<rect x="438.30" y="286.30" width="81.70" height="6.70" fill="#d6d6d6" />
<rect x="438.30" y="293.00" width="81.70" height="6.50" fill="#e0e0e0" />
<rect x="440.0" y="214.10" width="18.0" height="1.80" rx="0.90" fill="#3a3a3a"/>
<rect x="461.5" y="214.10" width="17.3" height="1.80" rx="0.90" fill="#3a3a3a"/>
<rect x="481.5" y="214.00" width="17.3" height="2.00" rx="1.00" fill="#333"/>
<rect x="501.3" y="214.00" width="16.3" height="2.00" rx="1.00" fill="#333"/>
<rect x="440.0" y="230.00" width="18.0" height="2.60" rx="1.30" fill="#111"/>
<rect x="461.5" y="230.10" width="17.3" height="2.40" rx="1.20" fill="#1a1a1a"/>
<rect x="481.5" y="229.90" width="17.3" height="2.80" rx="1.40" fill="#111"/>
<rect x="501.3" y="229.90" width="16.3" height="2.80" rx="1.40" fill="#111"/>
<rect x="440.0" y="247.40" width="18.0" height="1.00" rx="0.50" fill="#aaa"/>
<rect x="481.5" y="247.40" width="17.3" height="1.00" rx="0.50" fill="#999"/>
<rect x="501.3" y="247.10" width="16.3" height="1.60" rx="0.80" fill="#444"/>
<rect x="440.0" y="263.35" width="18.0" height="1.50" rx="0.75" fill="#666"/>
<rect x="461.5" y="263.40" width="17.3" height="1.40" rx="0.70" fill="#777"/>
<rect x="481.5" y="263.25" width="17.3" height="1.70" rx="0.85" fill="#555"/>
<rect x="501.3" y="263.00" width="16.3" height="2.20" rx="1.10" fill="#222"/>
<rect x="440.0" y="275.40" width="18.0" height="1.20" rx="0.60" fill="#c4c4c4"/>
<rect x="461.5" y="275.30" width="17.3" height="1.40" rx="0.70" fill="#8a8a8a"/>
<rect x="481.5" y="275.25" width="17.3" height="1.50" rx="0.75" fill="#7a7a7a"/>
<rect x="501.3" y="275.40" width="16.3" height="1.20" rx="0.60" fill="#c0c0c0"/>
<rect x="440.0" y="291.60" width="18.0" height="4.40" rx="2.20" fill="#050505"/>
<rect x="461.5" y="292.20" width="17.3" height="3.20" rx="1.60" fill="#1a1a1a"/>
<rect x="481.5" y="292.30" width="17.3" height="3.00" rx="1.50" fill="#222"/>
<rect x="501.3" y="292.60" width="16.3" height="2.40" rx="1.20" fill="#666"/>
<text x="449.00" y="225.17" font-size="5.2" font-weight="bold" fill="#333" text-anchor="middle" stroke="#333" stroke-width="0.22">1.0</text>
<text x="470.40" y="225.17" font-size="5.2" font-weight="bold" fill="#333" text-anchor="middle" stroke="#333" stroke-width="0.22">0.8</text>
<text x="489.80" y="225.17" font-size="5.2" font-weight="bold" fill="#333" text-anchor="middle" stroke="#333" stroke-width="0.22">1.1</text>
<text x="508.70" y="225.17" font-size="5.2" font-weight="bold" fill="#333" text-anchor="middle" stroke="#333" stroke-width="0.22">1.0</text>
<text x="449.00" y="241.27" font-size="5.2" font-weight="bold" fill="#333" text-anchor="middle" stroke="#333" stroke-width="0.22">1.0</text>
<text x="470.40" y="241.27" font-size="5.2" font-weight="bold" fill="#333" text-anchor="middle" stroke="#333" stroke-width="0.22">0.7</text>
<text x="489.80" y="241.27" font-size="5.2" font-weight="bold" fill="#333" text-anchor="middle" stroke="#333" stroke-width="0.22">1.1</text>
<text x="508.70" y="241.27" font-size="5.2" font-weight="bold" fill="#333" text-anchor="middle" stroke="#333" stroke-width="0.22">1.0</text>
<text x="449.00" y="257.67" font-size="5.2" font-weight="bold" fill="#333" text-anchor="middle" stroke="#333" stroke-width="0.22">1.0</text>
<text x="470.40" y="257.67" font-size="5.2" font-weight="bold" fill="#333" text-anchor="middle" stroke="#333" stroke-width="0.22">0.05</text>
<text x="489.80" y="257.67" font-size="5.2" font-weight="bold" fill="#333" text-anchor="middle" stroke="#333" stroke-width="0.22">1.0</text>
<text x="508.70" y="257.67" font-size="5.2" font-weight="bold" fill="#333" text-anchor="middle" stroke="#333" stroke-width="0.22">1.7</text>
<text x="449.00" y="271.17" font-size="5.2" font-weight="bold" fill="#333" text-anchor="middle" stroke="#333" stroke-width="0.22">1.0</text>
<text x="470.40" y="271.17" font-size="5.2" font-weight="bold" fill="#333" text-anchor="middle" stroke="#333" stroke-width="0.22">0.8</text>
<text x="489.80" y="271.17" font-size="5.2" font-weight="bold" fill="#333" text-anchor="middle" stroke="#333" stroke-width="0.22">1.0</text>
<text x="508.70" y="271.17" font-size="5.2" font-weight="bold" fill="#333" text-anchor="middle" stroke="#333" stroke-width="0.22">1.8</text>
<text x="449.00" y="285.07" font-size="5.2" font-weight="bold" fill="#333" text-anchor="middle" stroke="#333" stroke-width="0.22">1.0</text>
<text x="470.40" y="285.07" font-size="5.2" font-weight="bold" fill="#333" text-anchor="middle" stroke="#333" stroke-width="0.22">1.2</text>
<text x="489.80" y="285.07" font-size="5.2" font-weight="bold" fill="#333" text-anchor="middle" stroke="#333" stroke-width="0.22">1.2</text>
<text x="508.70" y="285.07" font-size="5.2" font-weight="bold" fill="#333" text-anchor="middle" stroke="#333" stroke-width="0.22">0.9</text>
<text x="449.00" y="305.27" font-size="5.2" font-weight="bold" fill="#333" text-anchor="middle" stroke="#333" stroke-width="0.22">1.0</text>
<text x="470.40" y="305.27" font-size="5.2" font-weight="bold" fill="#333" text-anchor="middle" stroke="#333" stroke-width="0.22">0.5</text>
<text x="489.80" y="305.27" font-size="5.2" font-weight="bold" fill="#333" text-anchor="middle" stroke="#333" stroke-width="0.22">0.3</text>
<text x="508.70" y="305.27" font-size="5.2" font-weight="bold" fill="#333" text-anchor="middle" stroke="#333" stroke-width="0.22">0.15</text>
<line x1="26.40" y1="294.70" x2="26.40" y2="397.30" stroke="#9a9a9a" stroke-width="1" shape-rendering="crispEdges"/>
<line x1="26.40" y1="397.30" x2="270.00" y2="397.30" stroke="#9a9a9a" stroke-width="1" shape-rendering="crispEdges"/>
<line x1="24.40" y1="397.30" x2="26.40" y2="397.30" stroke="#d0d0d0" stroke-width="1" shape-rendering="crispEdges"/>
<text x="22.20" y="399.53" font-size="6.2" fill="#222" text-anchor="end" stroke="#222" stroke-width="0.3">0</text>
<line x1="24.40" y1="384.47" x2="26.40" y2="384.47" stroke="#d0d0d0" stroke-width="1" shape-rendering="crispEdges"/>
<text x="22.20" y="386.70" font-size="6.2" fill="#222" text-anchor="end" stroke="#222" stroke-width="0.3">1</text>
<line x1="24.40" y1="371.64" x2="26.40" y2="371.64" stroke="#d0d0d0" stroke-width="1" shape-rendering="crispEdges"/>
<text x="22.20" y="373.87" font-size="6.2" fill="#222" text-anchor="end" stroke="#222" stroke-width="0.3">2</text>
<line x1="24.40" y1="358.81" x2="26.40" y2="358.81" stroke="#d0d0d0" stroke-width="1" shape-rendering="crispEdges"/>
<text x="22.20" y="361.04" font-size="6.2" fill="#222" text-anchor="end" stroke="#222" stroke-width="0.3">3</text>
<line x1="24.40" y1="345.98" x2="26.40" y2="345.98" stroke="#d0d0d0" stroke-width="1" shape-rendering="crispEdges"/>
<text x="22.20" y="348.21" font-size="6.2" fill="#222" text-anchor="end" stroke="#222" stroke-width="0.3">4</text>
<line x1="24.40" y1="333.15" x2="26.40" y2="333.15" stroke="#d0d0d0" stroke-width="1" shape-rendering="crispEdges"/>
<text x="22.20" y="335.38" font-size="6.2" fill="#222" text-anchor="end" stroke="#222" stroke-width="0.3">5</text>
<line x1="24.40" y1="320.32" x2="26.40" y2="320.32" stroke="#d0d0d0" stroke-width="1" shape-rendering="crispEdges"/>
<text x="22.20" y="322.55" font-size="6.2" fill="#222" text-anchor="end" stroke="#222" stroke-width="0.3">6</text>
<line x1="24.40" y1="307.49" x2="26.40" y2="307.49" stroke="#d0d0d0" stroke-width="1" shape-rendering="crispEdges"/>
<text x="22.20" y="309.72" font-size="6.2" fill="#222" text-anchor="end" stroke="#222" stroke-width="0.3">7</text>
<line x1="24.40" y1="294.66" x2="26.40" y2="294.66" stroke="#d0d0d0" stroke-width="1" shape-rendering="crispEdges"/>
<text x="22.20" y="296.89" font-size="6.2" fill="#222" text-anchor="end" stroke="#222" stroke-width="0.3">8</text>
<rect x="31.30" y="384.73" width="5.80" height="12.57" fill="#d4d4d4" />
<line x1="34.20" y1="382.16" x2="34.20" y2="387.29" stroke="#777" stroke-width="0.7" />
<line x1="33.10" y1="382.16" x2="35.30" y2="382.16" stroke="#777" stroke-width="0.7" />
<line x1="33.10" y1="387.29" x2="35.30" y2="387.29" stroke="#777" stroke-width="0.7" />
<rect x="37.10" y="364.07" width="5.80" height="33.23" fill="#000" />
<line x1="40.00" y1="356.76" x2="40.00" y2="364.07" stroke="#444" stroke-width="0.8" />
<line x1="38.70" y1="356.76" x2="41.30" y2="356.76" stroke="#444" stroke-width="0.8" />
<rect x="51.70" y="384.73" width="5.80" height="12.57" fill="#d4d4d4" />
<line x1="54.60" y1="383.19" x2="54.60" y2="386.27" stroke="#777" stroke-width="0.7" />
<line x1="53.50" y1="383.19" x2="55.70" y2="383.19" stroke="#777" stroke-width="0.7" />
<line x1="53.50" y1="386.27" x2="55.70" y2="386.27" stroke="#777" stroke-width="0.7" />
<rect x="57.50" y="393.45" width="5.80" height="3.85" fill="#000" />
<line x1="60.40" y1="392.17" x2="60.40" y2="393.45" stroke="#444" stroke-width="0.8" />
<line x1="59.10" y1="392.17" x2="61.70" y2="392.17" stroke="#444" stroke-width="0.8" />
<rect x="72.10" y="384.73" width="5.80" height="12.57" fill="#d4d4d4" />
<line x1="75.00" y1="382.16" x2="75.00" y2="387.29" stroke="#777" stroke-width="0.7" />
<line x1="73.90" y1="382.16" x2="76.10" y2="382.16" stroke="#777" stroke-width="0.7" />
<line x1="73.90" y1="387.29" x2="76.10" y2="387.29" stroke="#777" stroke-width="0.7" />
<rect x="77.90" y="349.83" width="5.80" height="47.47" fill="#000" />
<line x1="80.80" y1="341.75" x2="80.80" y2="349.83" stroke="#444" stroke-width="0.8" />
<line x1="79.50" y1="341.75" x2="82.10" y2="341.75" stroke="#444" stroke-width="0.8" />
<rect x="92.50" y="384.73" width="5.80" height="12.57" fill="#d4d4d4" />
<line x1="95.40" y1="382.16" x2="95.40" y2="387.29" stroke="#777" stroke-width="0.7" />
<line x1="94.30" y1="382.16" x2="96.50" y2="382.16" stroke="#777" stroke-width="0.7" />
<line x1="94.30" y1="387.29" x2="96.50" y2="387.29" stroke="#777" stroke-width="0.7" />
<rect x="98.30" y="374.85" width="5.80" height="22.45" fill="#000" />
<line x1="101.20" y1="372.15" x2="101.20" y2="374.85" stroke="#444" stroke-width="0.8" />
<line x1="99.90" y1="372.15" x2="102.50" y2="372.15" stroke="#444" stroke-width="0.8" />
<rect x="112.90" y="384.73" width="5.80" height="12.57" fill="#d4d4d4" />
<line x1="115.80" y1="382.16" x2="115.80" y2="387.29" stroke="#777" stroke-width="0.7" />
<line x1="114.70" y1="382.16" x2="116.90" y2="382.16" stroke="#777" stroke-width="0.7" />
<line x1="114.70" y1="387.29" x2="116.90" y2="387.29" stroke="#777" stroke-width="0.7" />
<rect x="118.70" y="363.04" width="5.80" height="34.26" fill="#000" />
<line x1="121.60" y1="358.55" x2="121.60" y2="363.04" stroke="#444" stroke-width="0.8" />
<line x1="120.30" y1="358.55" x2="122.90" y2="358.55" stroke="#444" stroke-width="0.8" />
<rect x="133.30" y="384.73" width="5.80" height="12.57" fill="#d4d4d4" />
<line x1="136.20" y1="381.52" x2="136.20" y2="387.93" stroke="#777" stroke-width="0.7" />
<line x1="135.10" y1="381.52" x2="137.30" y2="381.52" stroke="#777" stroke-width="0.7" />
<line x1="135.10" y1="387.93" x2="137.30" y2="387.93" stroke="#777" stroke-width="0.7" />
<rect x="139.10" y="363.43" width="5.80" height="33.87" fill="#000" />
<line x1="142.00" y1="354.45" x2="142.00" y2="363.43" stroke="#444" stroke-width="0.8" />
<line x1="140.70" y1="354.45" x2="143.30" y2="354.45" stroke="#444" stroke-width="0.8" />
<rect x="153.70" y="384.73" width="5.80" height="12.57" fill="#d4d4d4" />
<line x1="156.60" y1="383.19" x2="156.60" y2="386.27" stroke="#777" stroke-width="0.7" />
<line x1="155.50" y1="383.19" x2="157.70" y2="383.19" stroke="#777" stroke-width="0.7" />
<line x1="155.50" y1="386.27" x2="157.70" y2="386.27" stroke="#777" stroke-width="0.7" />
<rect x="159.50" y="342.39" width="5.80" height="54.91" fill="#000" />
<line x1="162.40" y1="337.64" x2="162.40" y2="342.39" stroke="#444" stroke-width="0.8" />
<line x1="161.10" y1="337.64" x2="163.70" y2="337.64" stroke="#444" stroke-width="0.8" />
<rect x="174.10" y="384.73" width="5.80" height="12.57" fill="#d4d4d4" />
<line x1="177.00" y1="382.16" x2="177.00" y2="387.29" stroke="#777" stroke-width="0.7" />
<line x1="175.90" y1="382.16" x2="178.10" y2="382.16" stroke="#777" stroke-width="0.7" />
<line x1="175.90" y1="387.29" x2="178.10" y2="387.29" stroke="#777" stroke-width="0.7" />
<rect x="179.90" y="357.27" width="5.80" height="40.03" fill="#000" />
<line x1="182.80" y1="348.03" x2="182.80" y2="357.27" stroke="#444" stroke-width="0.8" />
<line x1="181.50" y1="348.03" x2="184.10" y2="348.03" stroke="#444" stroke-width="0.8" />
<rect x="194.50" y="384.73" width="5.80" height="12.57" fill="#d4d4d4" />
<line x1="197.40" y1="381.90" x2="197.40" y2="387.55" stroke="#777" stroke-width="0.7" />
<line x1="196.30" y1="381.90" x2="198.50" y2="381.90" stroke="#777" stroke-width="0.7" />
<line x1="196.30" y1="387.55" x2="198.50" y2="387.55" stroke="#777" stroke-width="0.7" />
<rect x="200.30" y="360.73" width="5.80" height="36.57" fill="#000" />
<line x1="203.20" y1="356.37" x2="203.20" y2="360.73" stroke="#444" stroke-width="0.8" />
<line x1="201.90" y1="356.37" x2="204.50" y2="356.37" stroke="#444" stroke-width="0.8" />
<rect x="214.90" y="384.73" width="5.80" height="12.57" fill="#d4d4d4" />
<line x1="217.80" y1="380.88" x2="217.80" y2="388.58" stroke="#777" stroke-width="0.7" />
<line x1="216.70" y1="380.88" x2="218.90" y2="380.88" stroke="#777" stroke-width="0.7" />
<line x1="216.70" y1="388.58" x2="218.90" y2="388.58" stroke="#777" stroke-width="0.7" />
<rect x="220.70" y="382.80" width="5.80" height="14.50" fill="#000" />
<line x1="223.60" y1="379.34" x2="223.60" y2="382.80" stroke="#444" stroke-width="0.8" />
<line x1="222.30" y1="379.34" x2="224.90" y2="379.34" stroke="#444" stroke-width="0.8" />
<rect x="235.30" y="384.73" width="5.80" height="12.57" fill="#d4d4d4" />
<line x1="238.20" y1="384.09" x2="238.20" y2="385.37" stroke="#777" stroke-width="0.7" />
<line x1="237.10" y1="384.09" x2="239.30" y2="384.09" stroke="#777" stroke-width="0.7" />
<line x1="237.10" y1="385.37" x2="239.30" y2="385.37" stroke="#777" stroke-width="0.7" />
<rect x="241.10" y="319.81" width="5.80" height="77.49" fill="#000" />
<line x1="244.00" y1="308.26" x2="244.00" y2="319.81" stroke="#444" stroke-width="0.8" />
<line x1="242.70" y1="308.26" x2="245.30" y2="308.26" stroke="#444" stroke-width="0.8" />
<rect x="255.70" y="384.73" width="5.80" height="12.57" fill="#d4d4d4" />
<line x1="258.60" y1="381.52" x2="258.60" y2="387.93" stroke="#777" stroke-width="0.7" />
<line x1="257.50" y1="381.52" x2="259.70" y2="381.52" stroke="#777" stroke-width="0.7" />
<line x1="257.50" y1="387.93" x2="259.70" y2="387.93" stroke="#777" stroke-width="0.7" />
<rect x="261.50" y="391.01" width="5.80" height="6.29" fill="#000" />
<line x1="264.40" y1="388.70" x2="264.40" y2="391.01" stroke="#444" stroke-width="0.8" />
<line x1="263.10" y1="388.70" x2="265.70" y2="388.70" stroke="#444" stroke-width="0.8" />
<line x1="31.70" y1="356.10" x2="41.10" y2="356.10" stroke="#222" stroke-width="1" shape-rendering="crispEdges"/>
<circle cx="34.25" cy="353.10" r="1.3" fill="#111"/>
<circle cx="38.55" cy="353.10" r="1.3" fill="#111"/>
<line x1="53.00" y1="381.30" x2="62.50" y2="381.30" stroke="#222" stroke-width="1" shape-rendering="crispEdges"/>
<circle cx="55.60" cy="378.30" r="1.3" fill="#111"/>
<circle cx="59.90" cy="378.30" r="1.3" fill="#111"/>
<line x1="72.50" y1="345.00" x2="81.80" y2="345.00" stroke="#222" stroke-width="1" shape-rendering="crispEdges"/>
<circle cx="75.00" cy="342.00" r="1.3" fill="#111"/>
<circle cx="79.30" cy="342.00" r="1.3" fill="#111"/>
<line x1="92.20" y1="370.00" x2="101.20" y2="370.00" stroke="#222" stroke-width="1" shape-rendering="crispEdges"/>
<circle cx="96.70" cy="367.00" r="1.3" fill="#111"/>
<line x1="112.30" y1="356.10" x2="121.60" y2="356.10" stroke="#222" stroke-width="1" shape-rendering="crispEdges"/>
<circle cx="114.80" cy="353.10" r="1.3" fill="#111"/>
<circle cx="119.10" cy="353.10" r="1.3" fill="#111"/>
<line x1="133.00" y1="352.50" x2="142.80" y2="352.50" stroke="#222" stroke-width="1" shape-rendering="crispEdges"/>
<circle cx="135.75" cy="349.50" r="1.3" fill="#111"/>
<circle cx="140.05" cy="349.50" r="1.3" fill="#111"/>
<line x1="153.10" y1="335.30" x2="162.00" y2="335.30" stroke="#222" stroke-width="1" shape-rendering="crispEdges"/>
<circle cx="155.40" cy="332.30" r="1.3" fill="#111"/>
<circle cx="159.70" cy="332.30" r="1.3" fill="#111"/>
<line x1="173.60" y1="346.10" x2="182.90" y2="346.10" stroke="#222" stroke-width="1" shape-rendering="crispEdges"/>
<circle cx="176.10" cy="343.10" r="1.3" fill="#111"/>
<circle cx="180.40" cy="343.10" r="1.3" fill="#111"/>
<line x1="195.10" y1="354.20" x2="204.40" y2="354.20" stroke="#222" stroke-width="1" shape-rendering="crispEdges"/>
<circle cx="197.60" cy="351.20" r="1.3" fill="#111"/>
<circle cx="201.90" cy="351.20" r="1.3" fill="#111"/>
<line x1="235.50" y1="304.20" x2="244.80" y2="304.20" stroke="#222" stroke-width="1" shape-rendering="crispEdges"/>
<circle cx="238.00" cy="301.20" r="1.3" fill="#111"/>
<circle cx="242.30" cy="301.20" r="1.3" fill="#111"/>
<line x1="257.90" y1="378.90" x2="267.70" y2="378.90" stroke="#222" stroke-width="1" shape-rendering="crispEdges"/>
<circle cx="262.80" cy="375.90" r="1.3" fill="#111"/>
<rect x="52.10" y="307.60" width="5.70" height="6.20" fill="#c0c0c0" />
<rect x="52.10" y="317.00" width="5.70" height="6.20" fill="#000" />
<text x="59.90" y="313.40" font-size="8.0" font-weight="bold" stroke="#000" stroke-width="0.22" textLength="19.50" lengthAdjust="spacingAndGlyphs">Day 1</text>
<text x="59.90" y="322.70" font-size="8.0" font-weight="bold" stroke="#000" stroke-width="0.22" textLength="19.50" lengthAdjust="spacingAndGlyphs">Day 7</text>
<text transform="translate(15.60,380.40) rotate(-90)" font-size="9.3" font-weight="bold" stroke="#000" stroke-width="0.22" textLength="61.50" lengthAdjust="spacingAndGlyphs">Relative cell #</text>
<text x="37.70" y="289.60" font-size="8.4" font-weight="bold" stroke="#000" stroke-width="0.22" textLength="30.70" lengthAdjust="spacingAndGlyphs">Control</text>
<line x1="30.80" y1="292.00" x2="79.30" y2="292.00" stroke="#222" stroke-width="1.2" />
<text x="46.90" y="301.30" font-size="8.4" font-weight="bold" stroke="#000" stroke-width="0.22" textLength="13.90" lengthAdjust="spacingAndGlyphs">231</text>
<text x="96.60" y="289.60" font-size="8.4" font-weight="bold" stroke="#000" stroke-width="0.22" textLength="30.00" lengthAdjust="spacingAndGlyphs">Control</text>
<line x1="90.80" y1="292.00" x2="138.20" y2="292.00" stroke="#222" stroke-width="1.2" />
<text x="96.10" y="301.30" font-size="8.4" font-weight="bold" stroke="#000" stroke-width="0.22" textLength="37.40" lengthAdjust="spacingAndGlyphs">BoM1833</text>
<text x="146.30" y="289.60" font-size="8.4" font-weight="bold" stroke="#000" stroke-width="0.22" textLength="46.20" lengthAdjust="spacingAndGlyphs">shWNT3-37</text>
<text x="207.00" y="289.60" font-size="8.4" font-weight="bold" stroke="#000" stroke-width="0.22" textLength="45.00" lengthAdjust="spacingAndGlyphs">shWNT3-41</text>
<line x1="145.50" y1="292.00" x2="253.80" y2="292.00" stroke="#222" stroke-width="1.2" />
<text x="192.50" y="301.30" font-size="8.4" font-weight="bold" stroke="#000" stroke-width="0.22" textLength="13.80" lengthAdjust="spacingAndGlyphs">231</text>
<text x="15.00" y="408.35" font-size="8.2" font-weight="bold" stroke="#000" stroke-width="0.22" textLength="13.80" lengthAdjust="spacingAndGlyphs">3D:</text>
<text x="38.00" y="408.25" font-size="8.2" font-weight="bold" text-anchor="middle" stroke="#000" stroke-width="0.22">C</text>
<text x="56.60" y="408.25" font-size="8.2" font-weight="bold" text-anchor="middle" stroke="#000" stroke-width="0.22">EN</text>
<text x="77.30" y="408.25" font-size="8.2" font-weight="bold" text-anchor="middle" stroke="#000" stroke-width="0.22">C</text>
<text x="98.40" y="408.25" font-size="8.2" font-weight="bold" text-anchor="middle" stroke="#000" stroke-width="0.22">EN</text>
<text x="118.90" y="408.25" font-size="8.2" font-weight="bold" text-anchor="middle" stroke="#000" stroke-width="0.22">C</text>
<text x="139.70" y="408.25" font-size="8.2" font-weight="bold" text-anchor="middle" stroke="#000" stroke-width="0.22">EN</text>
<text x="160.50" y="408.25" font-size="8.2" font-weight="bold" text-anchor="middle" stroke="#000" stroke-width="0.22">C</text>
<text x="181.50" y="408.25" font-size="8.2" font-weight="bold" text-anchor="middle" stroke="#000" stroke-width="0.22">EN</text>
<text x="199.60" y="408.25" font-size="8.2" font-weight="bold" text-anchor="middle" stroke="#000" stroke-width="0.22">C</text>
<text x="220.70" y="408.25" font-size="8.2" font-weight="bold" text-anchor="middle" stroke="#000" stroke-width="0.22">EN</text>
<text x="241.10" y="408.25" font-size="8.2" font-weight="bold" text-anchor="middle" stroke="#000" stroke-width="0.22">C</text>
<text x="262.20" y="408.25" font-size="8.2" font-weight="bold" text-anchor="middle" stroke="#000" stroke-width="0.22">EN</text>
<text x="31.30" y="417.06" font-size="8.5" font-weight="bold" stroke="#000" stroke-width="0.22" textLength="30.70" lengthAdjust="spacingAndGlyphs">Control</text>
<text x="72.20" y="417.06" font-size="8.5" font-weight="bold" stroke="#000" stroke-width="0.22" textLength="30.30" lengthAdjust="spacingAndGlyphs">Control</text>
<text x="116.90" y="417.36" font-size="8.5" font-weight="bold" font-style="italic" stroke="#000" stroke-width="0.22" textLength="27.50" lengthAdjust="spacingAndGlyphs">SFRP2</text>
<text x="156.70" y="417.36" font-size="8.5" font-weight="bold" font-style="italic" stroke="#000" stroke-width="0.22" textLength="27.20" lengthAdjust="spacingAndGlyphs">SFRP4</text>
<text x="196.10" y="417.36" font-size="8.5" font-weight="bold" font-style="italic" stroke="#000" stroke-width="0.22" textLength="26.50" lengthAdjust="spacingAndGlyphs">SFRP3</text>
<text x="238.30" y="417.36" font-size="8.5" font-weight="bold" font-style="italic" stroke="#000" stroke-width="0.22" textLength="23.00" lengthAdjust="spacingAndGlyphs">WNT3</text>
<line x1="30.30" y1="419.30" x2="64.90" y2="419.30" stroke="#222" stroke-width="1.0" />
<line x1="70.30" y1="419.30" x2="104.90" y2="419.30" stroke="#222" stroke-width="1.0" />
<line x1="112.50" y1="419.30" x2="227.30" y2="419.30" stroke="#222" stroke-width="1.0" />
<line x1="233.10" y1="419.30" x2="267.90" y2="419.30" stroke="#222" stroke-width="1.0" />
<text x="40.90" y="428.66" font-size="8.5" font-weight="bold" stroke="#000" stroke-width="0.22" textLength="13.40" lengthAdjust="spacingAndGlyphs">231</text>
<text x="70.30" y="428.66" font-size="8.5" font-weight="bold" stroke="#000" stroke-width="0.22" textLength="36.50" lengthAdjust="spacingAndGlyphs">BoM1833</text>
<text x="163.60" y="428.66" font-size="8.5" font-weight="bold" stroke="#000" stroke-width="0.22" textLength="13.50" lengthAdjust="spacingAndGlyphs">231</text>
<text x="231.90" y="428.66" font-size="8.5" font-weight="bold" stroke="#000" stroke-width="0.22" textLength="36.30" lengthAdjust="spacingAndGlyphs">BoM1833</text>
<text transform="translate(345.60,343.0) rotate(-90)" font-size="9.6" fill="#111" stroke="#111" stroke-width="0.3" textLength="24.90" lengthAdjust="spacingAndGlyphs">Vector</text>
<text transform="translate(358.80,343.0) rotate(-90)" font-size="9.6" fill="#111" stroke="#111" stroke-width="0.3" textLength="28.80" lengthAdjust="spacingAndGlyphs">SFRP2</text>
<text transform="translate(371.70,343.0) rotate(-90)" font-size="9.6" fill="#111" stroke="#111" stroke-width="0.3" textLength="28.80" lengthAdjust="spacingAndGlyphs">SFRP3</text>
<text transform="translate(384.50,343.0) rotate(-90)" font-size="9.6" fill="#111" stroke="#111" stroke-width="0.3" textLength="28.80" lengthAdjust="spacingAndGlyphs">SFRP4</text>
<text transform="translate(397.60,343.0) rotate(-90)" font-size="9.6" fill="#111" stroke="#111" stroke-width="0.3" textLength="24.70" lengthAdjust="spacingAndGlyphs">Vector</text>
<text transform="translate(411.40,343.0) rotate(-90)" font-size="9.6" fill="#111" stroke="#111" stroke-width="0.3" textLength="25.00" lengthAdjust="spacingAndGlyphs">WNT3</text>
<text x="322.50" y="348.90" font-size="8.2" fill="#222" stroke="#222" stroke-width="0.15" textLength="9.30" lengthAdjust="spacingAndGlyphs">IB:</text>
<line x1="322.60" y1="350.20" x2="331.00" y2="350.20" stroke="#666" stroke-width="0.8" />
<text x="322.50" y="359.10" font-size="8.6" fill="#111" stroke="#111" stroke-width="0.2" textLength="10.30" lengthAdjust="spacingAndGlyphs">V5</text>
<line x1="334.20" y1="344.70" x2="334.20" y2="368.90" stroke="#333" stroke-width="1" shape-rendering="crispEdges"/>
<rect x="337.80" y="344.30" width="77.80" height="25.10" fill="#eeeeee" />
<rect x="337.80" y="362.00" width="77.80" height="7.40" fill="#e8e8e8" />
<line x1="389.20" y1="344.30" x2="389.20" y2="369.40" stroke="#f6f6f6" stroke-width="0.8" />
<rect x="376.50" y="354.00" width="10.50" height="3.00" fill="#d0d0d0" rx="1.5"/>
<rect x="389.70" y="360.80" width="9.50" height="4.00" fill="#d2d2d2" rx="2"/>
<rect x="364.50" y="361.50" width="10.00" height="2.00" fill="#dcdcdc" rx="1"/>
<rect x="350.50" y="363.00" width="11.00" height="2.00" fill="#dedede" rx="1"/>
<rect x="376.50" y="363.00" width="10.00" height="2.00" fill="#e0e0e0" rx="1"/>
<rect x="350.4" y="359.20" width="11.1" height="2.0" rx="1.0" fill="#1a1a1a"/>
<rect x="364.6" y="357.40" width="10.0" height="2.6" rx="1.3" fill="#111"/>
<rect x="376.7" y="351.50" width="10.0" height="2.0" rx="1.0" fill="#111"/>
<rect x="402.7" y="356.40" width="9.5" height="2.8" rx="1.4" fill="#111"/>
<text x="418.00" y="348.00" font-size="6.2" fill="#222" stroke="#222" stroke-width="0.3" textLength="11.00" lengthAdjust="spacingAndGlyphs">kDa</text>
<line x1="418.00" y1="349.00" x2="429.00" y2="349.00" stroke="#444" stroke-width="0.7" />
<text x="415.60" y="355.73" font-size="6.2" fill="#222" stroke="#222" stroke-width="0.3" textLength="9.40" lengthAdjust="spacingAndGlyphs">-50</text>
<text x="415.60" y="363.53" font-size="6.2" fill="#222" stroke="#222" stroke-width="0.3" textLength="9.40" lengthAdjust="spacingAndGlyphs">-30</text>
<text x="302.50" y="380.17" font-size="8.8" fill="#111" stroke="#111" stroke-width="0.3" textLength="30.50" lengthAdjust="spacingAndGlyphs">GAPDH</text>
<rect x="336.30" y="372.90" width="78.70" height="7.00" fill="#ebebeb" />
<rect x="337.8" y="375.1" width="9.5" height="2.5" rx="1.25" fill="#1a1a1a"/>
<rect x="350.4" y="375.1" width="9.9" height="2.5" rx="1.25" fill="#1a1a1a"/>
<rect x="363.2" y="375.1" width="9.7" height="2.5" rx="1.25" fill="#1a1a1a"/>
<rect x="375.8" y="375.1" width="10.4" height="2.5" rx="1.25" fill="#1a1a1a"/>
<rect x="389.7" y="375.1" width="11.2" height="2.5" rx="1.25" fill="#1a1a1a"/>
<rect x="404.0" y="375.1" width="10.4" height="2.5" rx="1.25" fill="#1a1a1a"/>
<line x1="337.80" y1="382.20" x2="388.00" y2="382.20" stroke="#555" stroke-width="1.0" />
<line x1="389.70" y1="382.20" x2="414.80" y2="382.20" stroke="#555" stroke-width="1.0" />
<text x="337.90" y="391.80" font-size="8.8" font-weight="bold" stroke="#000" stroke-width="0.22" textLength="50.70" lengthAdjust="spacingAndGlyphs">MDA-MB-231</text>
<text x="393.00" y="391.80" font-size="8.8" font-weight="bold" stroke="#000" stroke-width="0.22" textLength="18.50" lengthAdjust="spacingAndGlyphs">1833</text>
</svg>
</body></html>
